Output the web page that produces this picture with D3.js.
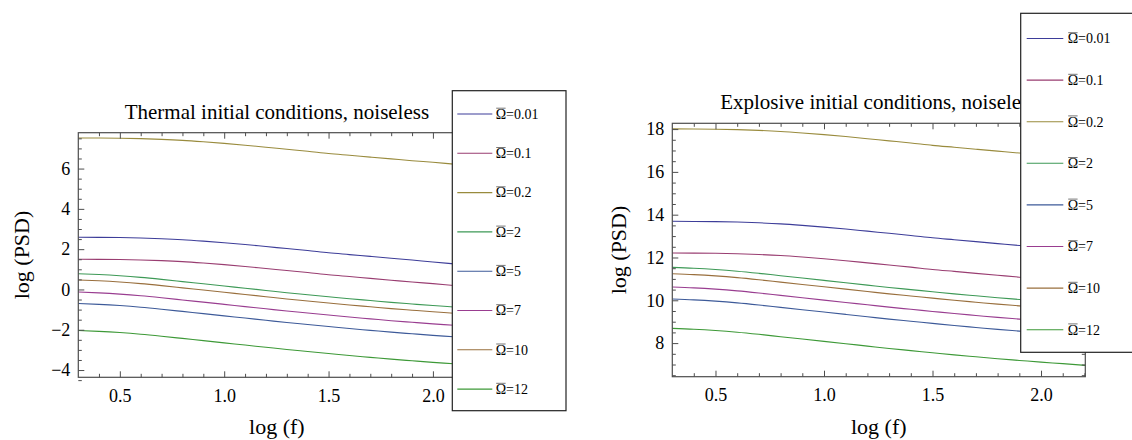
<!DOCTYPE html>
<html><head><meta charset="utf-8">
<script src="https://cdn.jsdelivr.net/npm/d3@7"></script>
<style>
body{margin:0;background:#fff}
svg{display:block}
text{font-family:"Liberation Serif","Times New Roman",serif;fill:#000}
</style>
</head><body>
<svg id="c" width="1132" height="440"></svg>
<script>
// ---------- data ----------
const logF = [0.301,0.4,0.5,0.6,0.7,0.8,0.9,1.0,1.1,1.2,1.3,1.4,1.5,1.6,1.7,1.8,1.9,2.0,2.1,2.204];
const omegaLabels = ["0.01","0.1","0.2","2","5","7","10","12"];
const seriesColors = ["#3d3d99","#993d71","#998b3d","#3d9956","#3d5a99","#993d90","#996f3d","#3d9937"];

// Thermal initial conditions
const thermal001 = [2.59,2.585,2.575,2.555,2.52,2.47,2.40,2.32,2.23,2.13,2.03,1.93,1.82,1.73,1.64,1.55,1.46,1.36,1.27,1.18];
const thermal01  = [1.50,1.495,1.485,1.465,1.43,1.38,1.31,1.23,1.14,1.04,0.94,0.84,0.73,0.64,0.55,0.46,0.37,0.29,0.20,0.11];
const thermal02  = [7.52,7.515,7.505,7.485,7.45,7.40,7.33,7.25,7.16,7.06,6.96,6.86,6.75,6.66,6.57,6.48,6.39,6.31,6.22,6.13];
const thermal2   = [0.78,0.74,0.68,0.60,0.50,0.39,0.28,0.17,0.06,-0.05,-0.16,-0.26,-0.36,-0.46,-0.55,-0.64,-0.72,-0.80,-0.87,-0.95];
const thermal5   = [-0.70,-0.74,-0.80,-0.88,-0.98,-1.09,-1.20,-1.31,-1.42,-1.53,-1.64,-1.74,-1.84,-1.94,-2.03,-2.12,-2.20,-2.28,-2.35,-2.43];
const thermal7   = [-0.13,-0.17,-0.23,-0.31,-0.41,-0.52,-0.63,-0.74,-0.85,-0.96,-1.07,-1.17,-1.27,-1.37,-1.46,-1.55,-1.63,-1.71,-1.78,-1.86];
const thermal10  = [0.47,0.43,0.37,0.29,0.19,0.08,-0.03,-0.14,-0.25,-0.36,-0.47,-0.57,-0.67,-0.77,-0.86,-0.95,-1.03,-1.11,-1.18,-1.26];
const thermal12  = [-2.04,-2.08,-2.14,-2.22,-2.32,-2.43,-2.54,-2.65,-2.76,-2.87,-2.98,-3.08,-3.18,-3.28,-3.37,-3.46,-3.54,-3.62,-3.69,-3.77];

// Explosive initial conditions
const explosive001 = [13.69,13.685,13.675,13.655,13.62,13.57,13.50,13.42,13.33,13.23,13.13,13.03,12.92,12.83,12.74,12.65,12.56,12.48,12.39,12.30];
const explosive01  = [12.21,12.205,12.195,12.175,12.14,12.09,12.02,11.94,11.85,11.75,11.65,11.55,11.44,11.35,11.26,11.17,11.08,11.00,10.91,10.82];
const explosive02  = [18.01,18.005,17.995,17.975,17.94,17.89,17.82,17.74,17.65,17.55,17.45,17.35,17.24,17.15,17.06,16.97,16.88,16.80,16.71,16.62];
const explosive2   = [11.54,11.50,11.44,11.36,11.26,11.15,11.04,10.93,10.82,10.71,10.60,10.50,10.40,10.30,10.21,10.12,10.04,9.96,9.89,9.81];
const explosive5   = [10.06,10.02,9.96,9.88,9.78,9.67,9.56,9.45,9.34,9.23,9.12,9.02,8.92,8.82,8.73,8.64,8.56,8.48,8.41,8.33];
const explosive7   = [10.62,10.58,10.52,10.44,10.34,10.23,10.12,10.01,9.90,9.79,9.68,9.58,9.48,9.38,9.29,9.20,9.12,9.04,8.97,8.89];
const explosive10  = [11.24,11.20,11.14,11.06,10.96,10.85,10.74,10.63,10.52,10.41,10.30,10.20,10.10,10.00,9.91,9.82,9.74,9.66,9.59,9.51];
const explosive12  = [8.69,8.65,8.59,8.51,8.41,8.30,8.19,8.08,7.97,7.86,7.75,7.65,7.55,7.45,7.36,7.27,7.19,7.11,7.04,6.96];

const xMajorTicks = [0.5,1.0,1.5,2.0];
const xTickLabels = ["0.5","1.0","1.5","2.0"];
const xMinorTicks = [0.4,0.6,0.7,0.8,0.9,1.1,1.2,1.3,1.4,1.6,1.7,1.8,1.9,2.1,2.2];
const thermalYMajor = [-4,-2,0,2,4,6];
const thermalYLabels = ["\u22124","\u22122","0","2","4","6"];
const thermalYMinor = [-4.5,-3.5,-3,-2.5,-1.5,-1,-0.5,0.5,1,1.5,2.5,3,3.5,4.5,5,5.5,6.5,7,7.5];
const explosiveYMajor = [8,10,12,14,16,18];
const explosiveYLabels = ["8","10","12","14","16","18"];
const explosiveYMinor = [6.5,7,7.5,8.5,9,9.5,10.5,11,11.5,12.5,13,13.5,14.5,15,15.5,16.5,17,17.5];

const thermalSeries = [thermal001,thermal01,thermal02,thermal2,thermal5,thermal7,thermal10,thermal12];
const explosiveSeries = [explosive001,explosive01,explosive02,explosive2,explosive5,explosive7,explosive10,explosive12];

// ---------- drawing ----------
const svg = d3.select("#c");
const frameColor = "#4d4d4d";
const FONT = "Liberation Serif";

function panel(cfg){
  const x = d3.scaleLinear().domain([0.301,2.204]).range([cfg.x0,cfg.x1]);
  const y = d3.scaleLinear().domain(cfg.yDomain).range([cfg.y1,cfg.y0]);
  const g = svg.append("g");

  // curves
  const line = d3.line().x((d,i)=>x(logF[i])).y(d=>y(d)).curve(d3.curveMonotoneX);
  cfg.series.forEach((s,i)=>{
    g.append("path").attr("d",line(s)).attr("fill","none")
      .attr("stroke",seriesColors[i]).attr("stroke-width",1.1);
  });

  // frame
  g.append("rect").attr("x",cfg.x0).attr("y",cfg.y0)
    .attr("width",cfg.x1-cfg.x0).attr("height",cfg.y1-cfg.y0)
    .attr("fill","none").attr("stroke",frameColor).attr("stroke-width",1.2);

  const styleAxis = sel => { sel.select(".domain").remove(); sel.selectAll("line").attr("stroke",frameColor); sel.attr("font-family",FONT); };

  // bottom
  g.append("g").attr("transform",`translate(0,${cfg.y1})`)
    .call(d3.axisBottom(x).tickValues(xMajorTicks).tickFormat((d,i)=>xTickLabels[i]).tickSizeInner(-6).tickSizeOuter(0).tickPadding(12))
    .call(styleAxis)
    .call(s=>s.selectAll("text").attr("font-size",18));
  g.append("g").attr("transform",`translate(0,${cfg.y1})`)
    .call(d3.axisBottom(x).tickValues(xMinorTicks).tickFormat("").tickSizeInner(-3.5).tickSizeOuter(0))
    .call(styleAxis);
  // top
  g.append("g").attr("transform",`translate(0,${cfg.y0})`)
    .call(d3.axisTop(x).tickValues(xMajorTicks).tickFormat("").tickSizeInner(-6).tickSizeOuter(0))
    .call(styleAxis);
  g.append("g").attr("transform",`translate(0,${cfg.y0})`)
    .call(d3.axisTop(x).tickValues(xMinorTicks).tickFormat("").tickSizeInner(-3.5).tickSizeOuter(0))
    .call(styleAxis);
  // left
  g.append("g").attr("transform",`translate(${cfg.x0},0)`)
    .call(d3.axisLeft(y).tickValues(cfg.yMajor).tickFormat((d,i)=>cfg.yLabels[i]).tickSizeInner(-6).tickSizeOuter(0).tickPadding(8))
    .call(styleAxis)
    .call(s=>s.selectAll("text").attr("font-size",18));
  g.append("g").attr("transform",`translate(${cfg.x0},0)`)
    .call(d3.axisLeft(y).tickValues(cfg.yMinor).tickFormat("").tickSizeInner(-3.5).tickSizeOuter(0))
    .call(styleAxis);
  // right
  g.append("g").attr("transform",`translate(${cfg.x1},0)`)
    .call(d3.axisRight(y).tickValues(cfg.yMajor).tickFormat("").tickSizeInner(-6).tickSizeOuter(0))
    .call(styleAxis);
  g.append("g").attr("transform",`translate(${cfg.x1},0)`)
    .call(d3.axisRight(y).tickValues(cfg.yMinor).tickFormat("").tickSizeInner(-3.5).tickSizeOuter(0))
    .call(styleAxis);

  // titles
  const cx = (cfg.x0+cfg.x1)/2;
  g.append("text").attr("x",cx).attr("y",cfg.y0-14).attr("text-anchor","middle")
    .attr("font-size",21).text(cfg.title);
  g.append("text").attr("x",cx).attr("y",433.5).attr("text-anchor","middle")
    .attr("font-size",22).text("log (f)");
  const ly = (cfg.y0+cfg.y1)/2;
  g.append("text").attr("transform",`translate(${cfg.labelX},${ly}) rotate(-90)`)
    .attr("text-anchor","middle").attr("dy","0.35em").attr("font-size",22).text("log (PSD)");

  // legend
  const L = cfg.legend;
  const lg = svg.append("g");
  lg.append("rect").attr("x",L.x).attr("y",L.y).attr("width",L.w).attr("height",L.h)
    .attr("fill","#fff").attr("stroke","#222").attr("stroke-width",1.2);
  omegaLabels.forEach((lab,i)=>{
    const yy = L.firstY + i*L.step;
    lg.append("line").attr("x1",L.lineX0).attr("x2",L.lineX1).attr("y1",yy).attr("y2",yy)
      .attr("stroke",seriesColors[i]).attr("stroke-width",1.1);
    const t = lg.append("text").attr("x",L.textX).attr("y",yy+4.8)
      .attr("font-size",14).text("\u03A9="+lab);
    const w = t.node().getSubStringLength(0,1);
    lg.append("line").attr("x1",L.textX+0.5).attr("x2",L.textX+w-0.5)
      .attr("y1",yy-5.8).attr("y2",yy-5.8).attr("stroke","#777").attr("stroke-width",1);
  });
}

panel({
  x0:78.3, x1:475.5, y0:132.7, y1:377.3, yDomain:[-4.36,7.78],
  series:thermalSeries, yMajor:thermalYMajor, yLabels:thermalYLabels, yMinor:thermalYMinor,
  title:"Thermal initial conditions, noiseless", labelX:21,
  legend:{x:452.3,y:90.7,w:113.7,h:320,firstY:114,step:39.3,lineX0:457.3,lineX1:492.3,textX:495.7}
});
panel({
  x0:672.3, x1:1085.3, y0:123.3, y1:376.7, yDomain:[6.43,18.27],
  series:explosiveSeries, yMajor:explosiveYMajor, yLabels:explosiveYLabels, yMinor:explosiveYMinor,
  title:"Explosive initial conditions, noiseless", labelX:618,
  legend:{x:1020.7,y:13.3,w:140,h:339,firstY:38.5,step:41.6,lineX0:1026.7,lineX1:1063.3,textX:1067.7}
});
</script>
</body></html>
